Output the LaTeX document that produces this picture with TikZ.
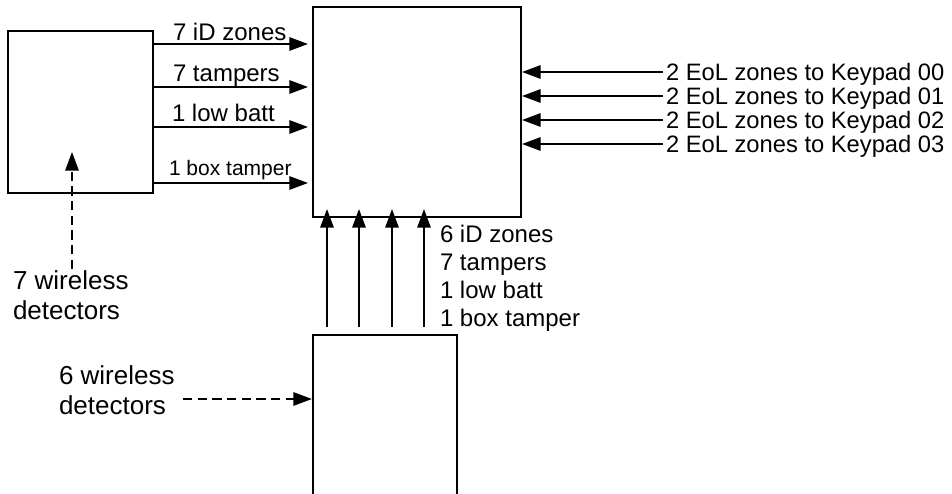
\documentclass[tikz,border=0pt]{standalone}
\usepackage{fontspec}
\setmainfont{Liberation Sans}
\usetikzlibrary{arrows.meta}

\tikzset{every picture/.style={line width=1.5pt}}
\tikzset{
  box/.style={draw, inner sep=0pt, anchor=north west},
  arr/.style={-{Triangle[length=14pt,width=10pt]}},
  wl/.style={dash pattern=on 7pt off 4pt},
  lbl/.style={inner sep=0pt, anchor=base west},
}

\begin{document}
\begin{tikzpicture}[x=0.75pt,y=0.75pt,yscale=-1,xscale=1]
\clip (0,0) rectangle (952,493);

%Shape: Rectangle [id:main]
\node[box, minimum width=156pt, minimum height=157.5pt] (main) at (312,6) {};
%Shape: Rectangle [id:rx7]
\node[box, minimum width=108.75pt, minimum height=121.5pt] (rx7) at (7,30) {};
%Shape: Rectangle [id:rx6] (runs off the bottom)
\node[box, minimum width=108pt, minimum height=140pt] (rx6) at (312,334) {};

%Straight Lines: rx7 to main
\draw[arr, shorten >=3pt] (rx7.east |- 0,44) -- (main.west |- 0,44);
\draw[arr, shorten >=3pt] (rx7.east |- 0,87) -- (main.west |- 0,87);
\draw[arr, shorten >=3pt] (rx7.east |- 0,127) -- (main.west |- 0,127);
\draw[arr, shorten >=3pt] (rx7.east |- 0,183) -- (main.west |- 0,183);

% Text Node
\node[lbl, font=\fontsize{18pt}{20pt}\selectfont] (t1) at (172,40) {7 iD zones};
% Text Node
\node[lbl, font=\fontsize{18pt}{20pt}\selectfont] (t2) at (172,81) {7 tampers};
% Text Node
\node[lbl, font=\fontsize{18pt}{20pt}\selectfont] (t3) at (171,121) {1 low batt};
% Text Node
\node[lbl, font=\fontsize{15.75pt}{18pt}\selectfont] (t4) at (168,175) {1 box tamper};

%Keypad zones
\foreach \k/\yy in {0/72, 1/96, 2/120, 3/144}{
  \node[lbl, anchor=west, text depth=0pt, inner xsep=1.5pt, font=\fontsize{17.8pt}{20pt}\selectfont] (kp\k) at (663,\yy) {2 EoL zones to Keypad 0\k};
  \draw[arr] (kp\k.west) -- (kp\k.west -| main.east);
}

%Straight Lines: rx6 to main
\foreach \u/\xx in {1/327, 2/359, 3/392, 4/424}{
  \coordinate (u\u) at (\xx,327);
  \draw[arr, shorten >=-6.75pt] (u\u) -- (u\u |- main.south);
}

% Text Node (base = last line)
\node[lbl, align=left, font=\fontsize{18pt}{20.8pt}\selectfont] (rx6lbl) at (439,326) {6 iD zones\\7 tampers\\1 low batt\\1 box tamper};

% Text Node
\node[lbl, align=left, font=\fontsize{19.5pt}{22.5pt}\selectfont] (w7) at (12,319) {7 wireless\\detectors};
% Text Node
\node[lbl, align=left, font=\fontsize{19.5pt}{22.5pt}\selectfont] (w6) at (58,414) {6 wireless\\detectors};

%Dashed Lines
\coordinate (d7) at (72,152);
\draw[arr, wl] (w7.north -| d7) -- (d7);
\coordinate (d6) at (183,399);
\draw[arr, wl] (d6) -- (d6 -| rx6.west);

\end{tikzpicture}
\end{document}
